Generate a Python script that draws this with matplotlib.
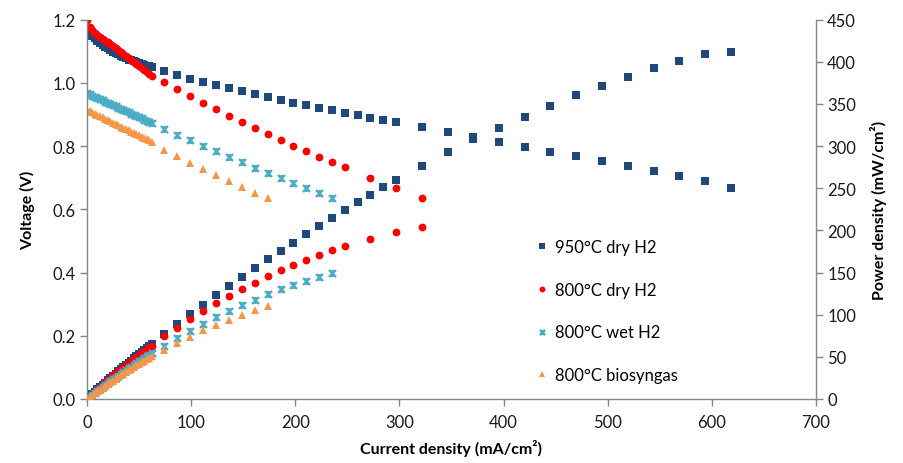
import matplotlib
matplotlib.use("Agg")
import matplotlib.pyplot as plt
from matplotlib.path import Path

plt.rcParams['font.family'] = ['Lato', 'DejaVu Sans']

# ---------------- data ----------------
labels = ["950°C dry H2", "800°C dry H2", "800°C wet H2", "800°C biosyngas"]

dense_i = [0, 2.5, 5, 7.5, 10, 12.5, 15, 17.5, 20, 22.5, 25, 27.5, 30, 32.5, 35,
           37.5, 40, 42.5, 45, 47.5, 50, 52.5, 55, 57.5, 60, 62]

# 950°C dry H2
i_950 = dense_i + [74, 86.5, 99, 111.5, 124, 136, 148.5, 161, 173.5, 186, 198, 210.5,
                   223, 235, 247.5, 260, 272, 284.5, 297, 322, 346.5, 371, 396, 420.5,
                   445, 470, 494.5, 519, 544, 568.5, 593, 618]
v_950 = [1.172, 1.160, 1.150, 1.142, 1.134, 1.127, 1.120, 1.114, 1.109, 1.104, 1.099,
         1.094, 1.090, 1.086, 1.082, 1.078, 1.074, 1.071, 1.068, 1.065, 1.062, 1.060,
         1.058, 1.055, 1.053, 1.051,
         1.038, 1.025, 1.013, 1.003, 0.994, 0.984, 0.975, 0.965, 0.956, 0.946, 0.937,
         0.929, 0.921, 0.913, 0.904, 0.898, 0.888, 0.882, 0.875, 0.860, 0.844, 0.830,
         0.812, 0.796, 0.780, 0.768, 0.752, 0.736, 0.722, 0.706, 0.690, 0.667]
p_950 = [0, 2.90, 5.75, 8.57, 11.34, 14.09, 16.80, 19.50, 22.18, 24.84, 27.48, 30.09,
         32.70, 35.30, 37.87, 40.43, 42.96, 45.52, 48.06, 50.59, 53.10, 55.65, 58.19,
         60.66, 63.18, 65.16,
         76.81, 88.66, 100.29, 111.83, 123.26, 133.82, 144.79, 155.37, 165.87, 175.96,
         185.53, 195.55, 205.38, 214.56, 223.74, 233.48, 241.54, 250.93, 259.88, 276.92,
         292.45, 307.93, 321.55, 334.72, 347.10, 360.96, 371.86, 381.98, 392.77, 401.36,
         409.17, 412.21]

# 800°C dry H2
i_800d = dense_i + [74, 86.5, 99, 111.5, 124, 136, 148.5, 161, 173.5, 186, 198, 210.5,
                    223, 235, 247.5, 272, 297, 322]
v_800d = [1.200, 1.178, 1.168, 1.159, 1.152, 1.146, 1.140, 1.134, 1.128, 1.122, 1.117,
          1.111, 1.105, 1.098, 1.092, 1.085, 1.079, 1.072, 1.066, 1.059, 1.053, 1.046,
          1.040, 1.033, 1.027, 1.022,
          1.002, 0.980, 0.958, 0.937, 0.916, 0.896, 0.877, 0.857, 0.838, 0.820, 0.802,
          0.784, 0.767, 0.750, 0.733, 0.699, 0.667, 0.635]
p_800d = [0, 2.95, 5.84, 8.69, 11.52, 14.33, 17.10, 19.85, 22.56, 25.25, 27.93, 30.55,
          33.15, 35.69, 38.22, 40.69, 43.16, 45.56, 47.97, 50.30, 52.65, 54.92, 57.20,
          59.40, 61.62, 63.36,
          74.15, 84.77, 94.84, 104.48, 113.58, 121.86, 130.23, 137.98, 145.39, 152.52,
          158.80, 165.03, 171.04, 176.25, 181.42, 190.13, 198.10, 204.47]

# 800°C wet H2
i_800w = dense_i + [74, 86.5, 99, 111.5, 124, 136, 148.5, 161, 173.5, 186, 198, 210.5,
                    223, 235]
v_800w = [0.968, 0.964, 0.960, 0.957, 0.953, 0.949, 0.945, 0.941, 0.937, 0.934, 0.930,
          0.926, 0.922, 0.918, 0.914, 0.911, 0.907, 0.903, 0.899, 0.895, 0.891, 0.888,
          0.884, 0.880, 0.876, 0.873,
          0.855, 0.835, 0.819, 0.799, 0.784, 0.766, 0.749, 0.732, 0.716, 0.699, 0.682,
          0.667, 0.651, 0.637]
p_800w = [0, 2.41, 4.80, 7.18, 9.53, 11.86, 14.18, 16.47, 18.74, 21.02, 23.25, 25.47,
          27.66, 29.84, 31.99, 34.16, 36.28, 38.38, 40.46, 42.51, 44.55, 46.62, 48.62,
          50.60, 52.56, 54.13,
          63.27, 72.23, 81.08, 89.09, 97.22, 104.18, 111.23, 117.85, 124.23, 130.01,
          135.04, 140.40, 145.17, 149.70]

# 800°C biosyngas
i_bio = dense_i + [74, 86.5, 99, 111.5, 124, 136, 148.5, 161, 173.5]
v_bio = [0.915, 0.911, 0.907, 0.903, 0.899, 0.895, 0.891, 0.886, 0.882, 0.878, 0.874,
         0.870, 0.866, 0.862, 0.858, 0.854, 0.850, 0.846, 0.842, 0.838, 0.834, 0.830,
         0.826, 0.822, 0.818, 0.814,
         0.789, 0.769, 0.748, 0.729, 0.710, 0.690, 0.672, 0.653, 0.635]
p_bio = [0, 2.28, 4.54, 6.77, 8.99, 11.19, 13.37, 15.51, 17.64, 19.76, 21.85, 23.93,
         25.98, 28.02, 30.03, 32.03, 34.00, 35.96, 37.89, 39.81, 41.70, 43.58, 45.43,
         47.27, 49.08, 50.47,
         58.39, 66.52, 74.05, 81.28, 88.04, 93.84, 99.79, 105.13, 110.17]

x_ticks = [0, 100, 200, 300, 400, 500, 600, 700]
v_ticks = [0.0, 0.2, 0.4, 0.6, 0.8, 1.0, 1.2]
p_ticks = [0, 50, 100, 150, 200, 250, 300, 350, 400, 450]

# ---------------- style ----------------
star = Path([(-1, -1), (1, 1), (-1, 1), (1, -1), (0, -1), (0, 1)],
            [Path.MOVETO, Path.LINETO, Path.MOVETO, Path.LINETO, Path.MOVETO, Path.LINETO])

styles = [
    dict(marker='s', color='#1F497D', ms=5.4, mew=0),
    dict(marker='o', color='#FF0000', ms=5.6, mew=0),
    dict(marker=star, color='#4BACC6', ms=5.0, mew=1.7),
    dict(marker='^', color='#F79646', ms=5.4, mew=0),
]
grey = '#868686'

fig = plt.figure(figsize=(9.04, 4.64), dpi=100)
ax = fig.add_axes([87 / 904, 1 - 400 / 464, (816 - 87) / 904, (400 - 20.7) / 464])
ax2 = ax.twinx()

series = [(i_950, v_950, p_950), (i_800d, v_800d, p_800d),
          (i_800w, v_800w, p_800w), (i_bio, v_bio, p_bio)]
handles = []
for (ii, vv, pp), st, lab in zip(series, styles, labels):
    h, = ax.plot(ii, vv, linestyle='none', marker=st['marker'], color=st['color'],
                 markersize=st['ms'], markeredgewidth=st['mew'],
                 markeredgecolor=st['color'], label=lab)
    ax2.plot(ii, pp, linestyle='none', marker=st['marker'], color=st['color'],
             markersize=st['ms'], markeredgewidth=st['mew'],
             markeredgecolor=st['color'])
    handles.append(h)

ax.set_xlim(0, 700)
ax.set_ylim(0, 1.2)
ax2.set_ylim(0, 450)
ax.set_xticks(x_ticks)
ax.set_yticks(v_ticks)
ax.set_yticklabels([f"{t:.1f}" for t in v_ticks])
ax2.set_yticks(p_ticks)

for a in (ax, ax2):
    a.spines['top'].set_visible(False)
    for s in ('left', 'right', 'bottom'):
        a.spines[s].set_color(grey)
        a.spines[s].set_linewidth(1.0)
    a.tick_params(direction='out', length=5, width=1, color=grey,
                  labelsize=12, labelcolor='#1a1a1a', pad=3)
ax.tick_params(axis='x', pad=6)
ax2.spines['left'].set_visible(False)
ax2.spines['bottom'].set_visible(False)
ax.spines['right'].set_visible(False)

ax.set_xlabel("Current density (mA/cm²)", fontsize=11.5, fontweight='bold', labelpad=6)
ax.set_ylabel("Voltage (V)", fontsize=11.5, fontweight='bold', labelpad=13)
ax2.set_ylabel("Power density (mW/cm²)", fontsize=11.5, fontweight='bold', labelpad=10)

leg = ax2.legend(handles=handles, loc='upper left',
                 bbox_to_anchor=(522 / 904, 1 - 225 / 464), bbox_transform=fig.transFigure,
                 frameon=False, fontsize=12, labelspacing=1.6, handlelength=0.6,
                 handletextpad=0.5, markerscale=0.75)

fig.savefig("out.png", dpi=100)
